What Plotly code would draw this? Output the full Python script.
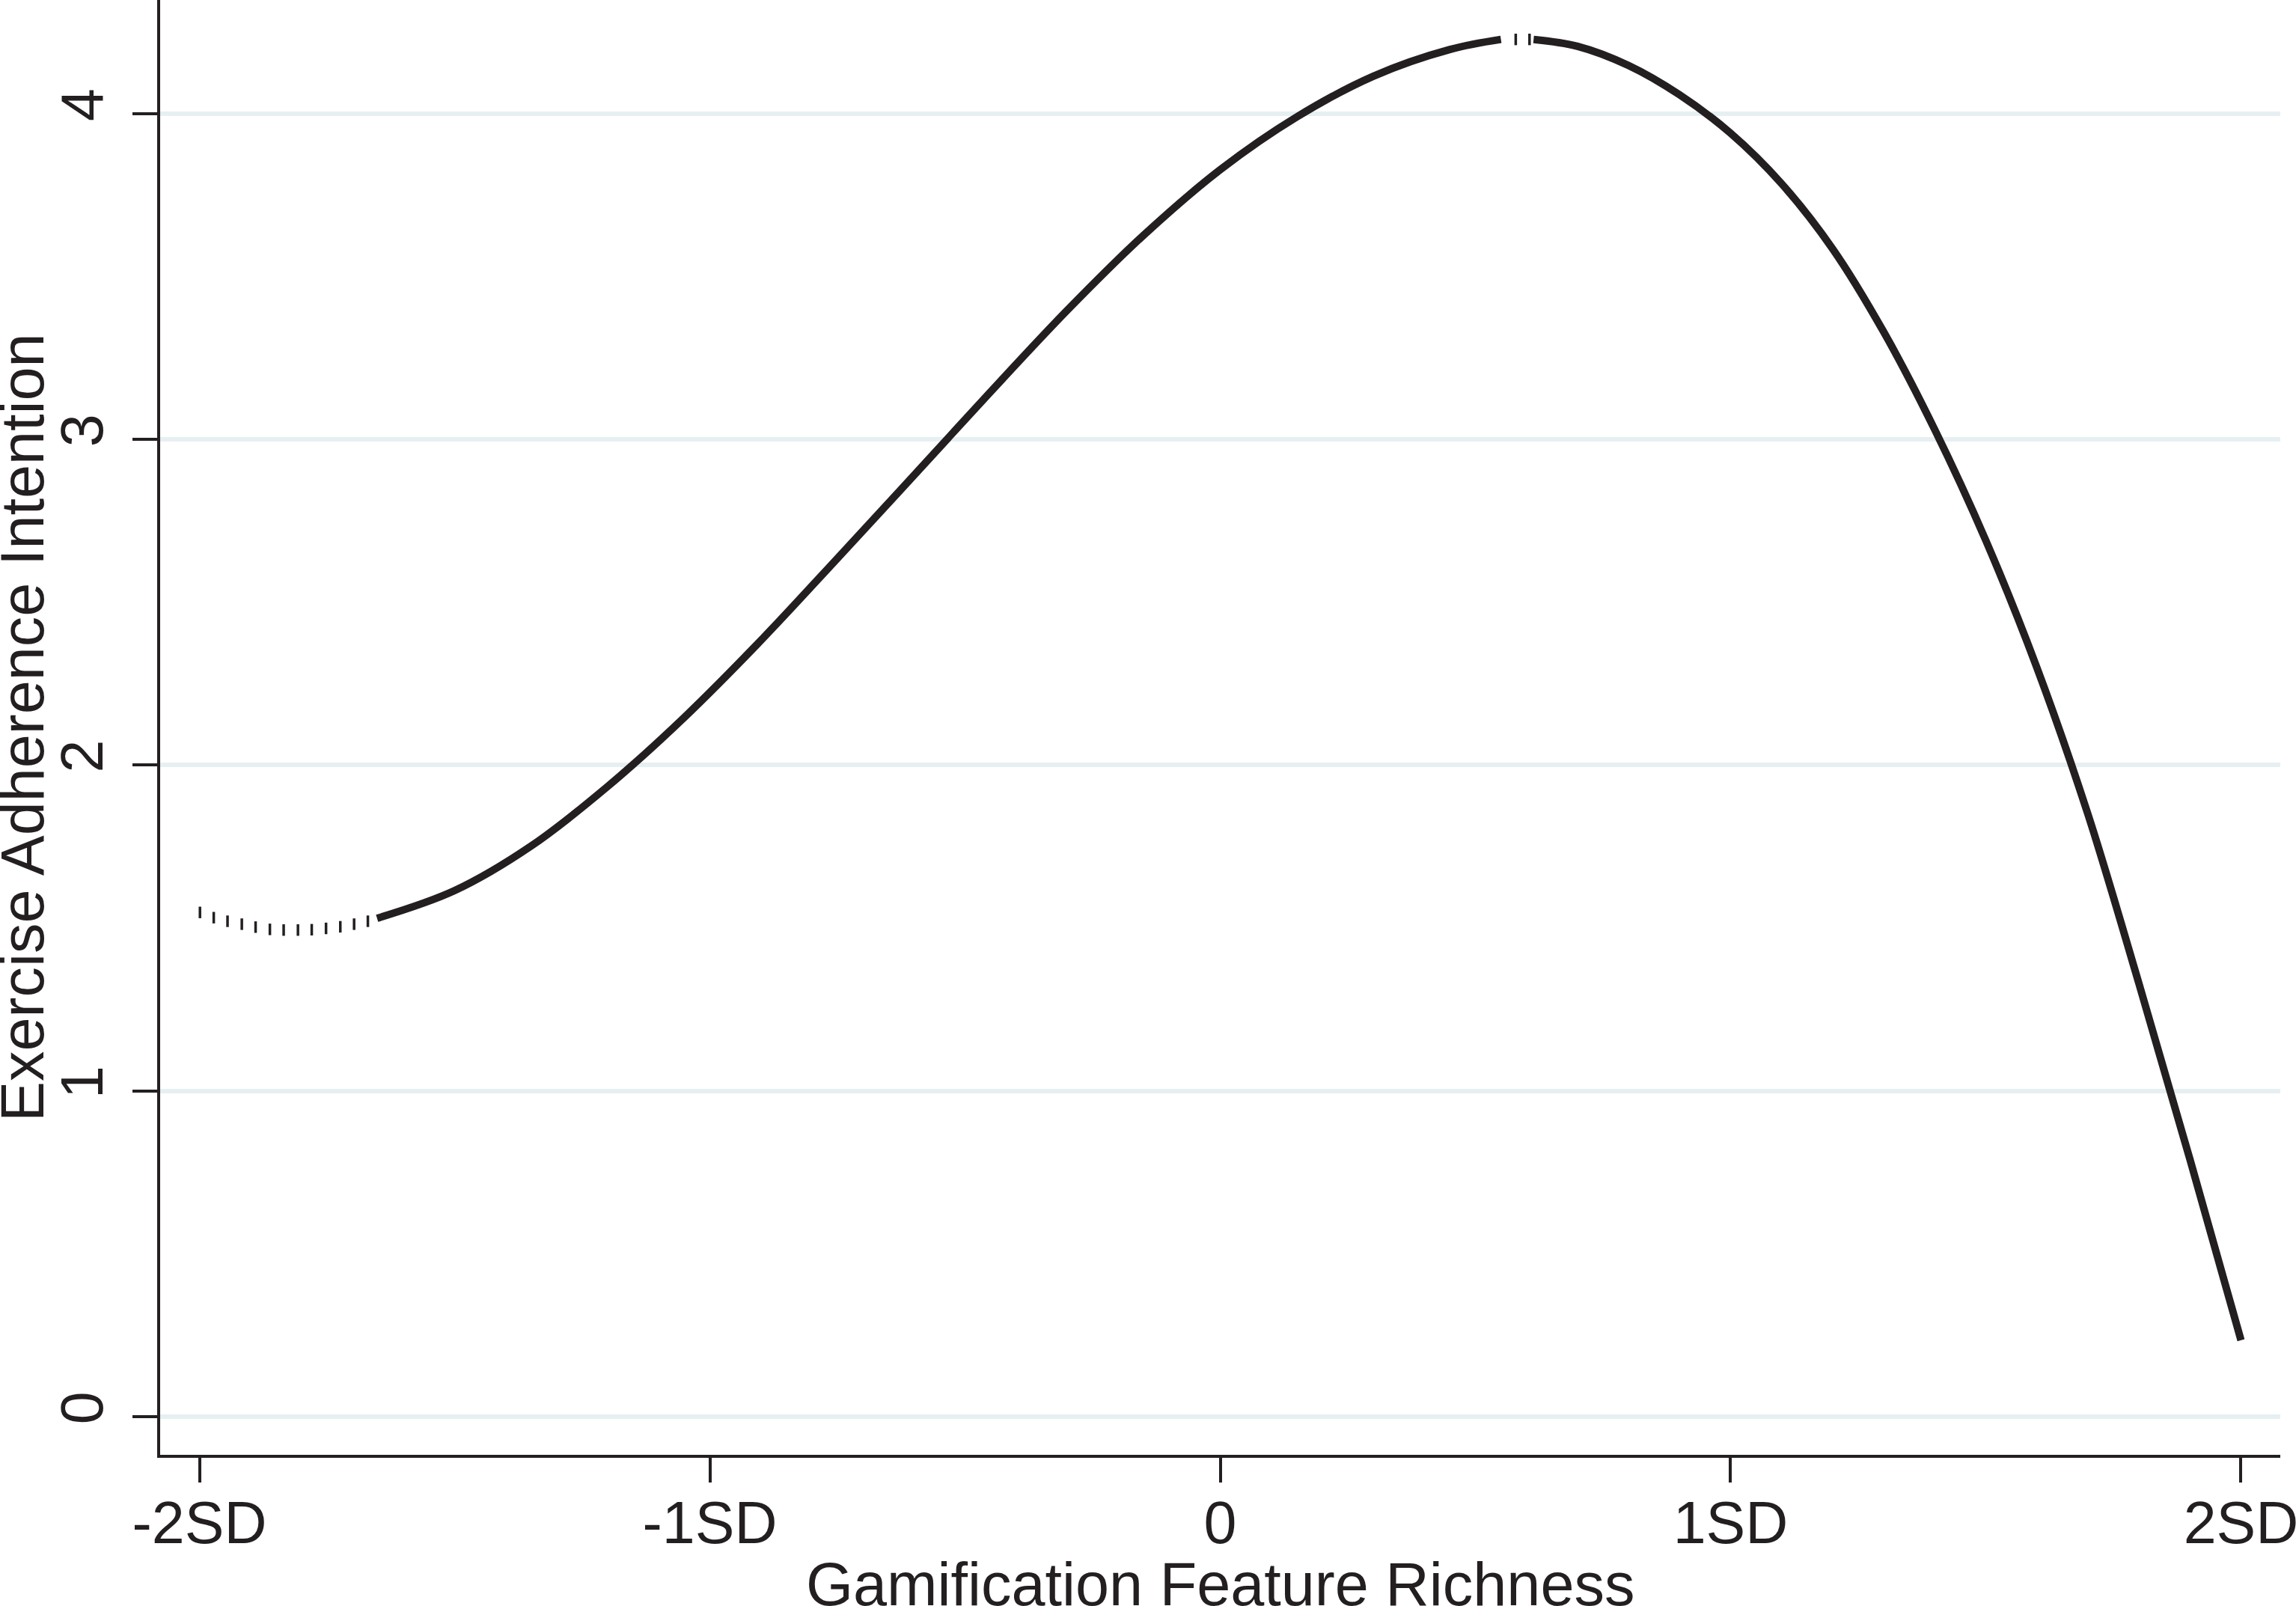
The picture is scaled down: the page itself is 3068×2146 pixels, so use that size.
import plotly.graph_objects as go

# values (x in SD units, y on the intention scale)
dotted_x = [-1.999, -1.972, -1.945, -1.917, -1.890, -1.862, -1.835,
            -1.807, -1.780, -1.752, -1.724, -1.697, -1.670]
dotted_y = [1.548, 1.532, 1.521, 1.512, 1.503, 1.496, 1.494,
            1.494, 1.495, 1.499, 1.504, 1.512, 1.521]

rising_x = [-1.652, -1.50, -1.35, -1.20, -1.05, -0.90, -0.75, -0.60,
            -0.45, -0.30, -0.15, 0.00, 0.15, 0.30, 0.45, 0.550]
rising_y = [1.530, 1.615, 1.752, 1.935, 2.147, 2.383, 2.635, 2.890,
            3.146, 3.396, 3.627, 3.828, 3.990, 4.115, 4.197, 4.228]

peak_x = [0.579, 0.606]
peak_y = [4.228, 4.228]

falling_x = [0.614, 0.70, 0.80, 0.90, 1.00, 1.10, 1.20, 1.30,
             1.40, 1.50, 1.60, 1.70, 1.80, 1.90, 2.00]
falling_y = [4.228, 4.207, 4.148, 4.058, 3.940, 3.785, 3.585, 3.330,
             3.030, 2.690, 2.300, 1.850, 1.330, 0.790, 0.235]

x_ticks = [-2, -1, 0, 1, 2]
x_labels = ["-2SD", "-1SD", "0", "1SD", "2SD"]
y_ticks = [0, 1, 2, 3, 4]

ink = "#231f20"
font_family = "Liberation Sans, Arial, sans-serif"
tick_size = 79
title_size = 81


def axis_style(ax):
    ax.update(showline=True, linewidth=4, linecolor=ink,
              ticks="outside", ticklen=33, tickwidth=4, tickcolor=ink,
              zeroline=False, automargin=False, ticklabeloverflow="allow",
              tickfont=dict(family=font_family, size=tick_size, color=ink))
    return ax


fig = go.Figure()

solid = dict(color=ink, width=10, shape="spline", smoothing=1.0)
ticks = dict(symbol="line-ns", size=11, color=ink, line=dict(color=ink, width=3.5))

fig.add_trace(go.Scatter(x=dotted_x, y=dotted_y, mode="markers", marker=ticks))
fig.add_trace(go.Scatter(x=rising_x, y=rising_y, mode="lines", line=solid))
fig.add_trace(go.Scatter(x=peak_x, y=peak_y, mode="markers", marker=ticks))
fig.add_trace(go.Scatter(x=falling_x, y=falling_y, mode="lines", line=solid))

fig.update_layout(
    width=3068, height=2146,
    margin=dict(l=214, r=21, t=0, b=202, pad=0),
    paper_bgcolor="white", plot_bgcolor="white",
    showlegend=False,
    font=dict(family=font_family, size=tick_size, color=ink),
)

axis_style(fig.layout.xaxis)
fig.update_xaxes(range=[-2.077, 2.077], tickvals=x_ticks, ticktext=x_labels,
                 showgrid=False, ticklabelstandoff=-14)

axis_style(fig.layout.yaxis)
fig.update_yaxes(range=[-0.117, 4.349], tickvals=y_ticks, tickangle=-90,
                 showgrid=True, gridcolor="#e6eff2", gridwidth=6,
                 ticklabelstandoff=8)

# axis titles as annotations: plotly keeps axis titles inside the page,
# the reference has them running right up to the edges
title_font = dict(family=font_family, size=title_size, color=ink)
fig.add_annotation(text="Gamification Feature Richness",
                   xref="paper", yref="paper", x=0.5, y=(1944 - 2117) / 1944,
                   xanchor="center", yanchor="middle", showarrow=False,
                   font=title_font)
fig.add_annotation(text="Exercise Adherence Intention", textangle=-90,
                   xref="paper", yref="paper", x=(30 - 214) / 2833, y=0.5,
                   xanchor="center", yanchor="middle", showarrow=False,
                   font=title_font)

# drop the page's default body margin so the figure sits at the corner
fig.write_html("out.html", config={"displayModeBar": False},
               post_script="document.body.style.margin='0';")
